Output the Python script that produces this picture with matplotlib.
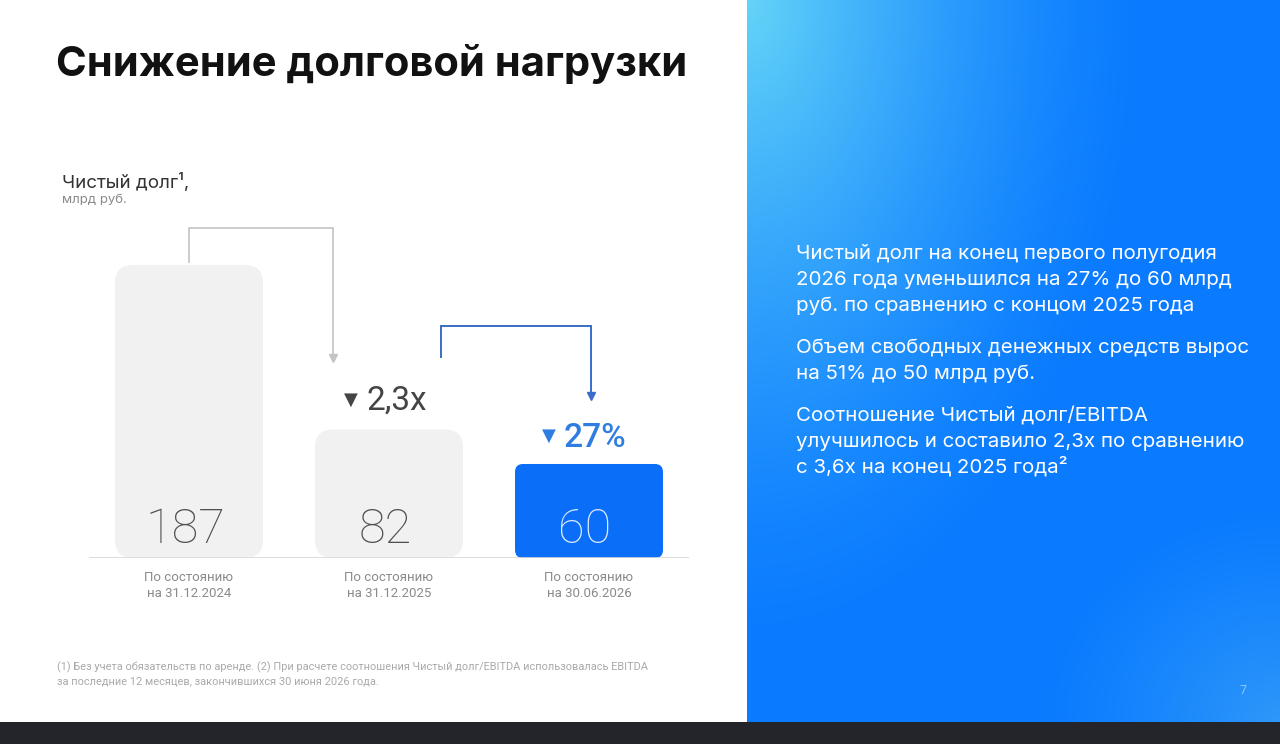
import numpy as np
import matplotlib
matplotlib.use('Agg')
import matplotlib.pyplot as plt
from matplotlib.patches import FancyBboxPatch

plt.rcParams['font.family'] = ['Roboto', 'DejaVu Sans']

# data
categories = ['По состоянию\nна 31.12.2024', 'По состоянию\nна 31.12.2025', 'По состоянию\nна 30.06.2026']
values = [187, 82, 60]
bar_colors = ['#f1f1f1', '#f1f1f1', '#0b6ef8']
label_colors = ['#505050', '#505050', '#dbeaff']
change_labels = ['2,3x', '27%']

title = 'Снижение долговой нагрузки'
paragraphs = [
    ['Чистый долг на конец первого полугодия',
     '2026 года уменьшился на 27% до 60 млрд',
     'руб. по сравнению с концом 2025 года'],
    ['Объем свободных денежных средств вырос',
     'на 51% до 50 млрд руб.'],
    ['Соотношение Чистый долг/EBITDA',
     'улучшилось и составило 2,3x по сравнению',
     'с 3,6x на конец 2025 года²'],
]
footnote = ['(1) Без учета обязательств по аренде. (2) При расчете соотношения Чистый долг/EBITDA использовалась EBITDA',
            'за последние 12 месяцев, закончившихся 30 июня 2026 года.']

W, H = 1280, 744
fig = plt.figure(figsize=(W / 100, H / 100), dpi=100, facecolor='white')


def pos(x, y):
    return x / W, 1 - y / H


# right gradient panel
gx0, gy1 = 747, 722
gh, gw = gy1, W - gx0
u = np.linspace(0, 1, gw)[None, :]
v = np.linspace(0, 1, gh)[:, None]
base = np.array([10, 123, 255]) / 255
cyan = np.array([100, 212, 248]) / 255
light = np.array([70, 170, 245]) / 255
m1 = np.clip(1 - np.sqrt((u / 0.75) ** 2 + (v / 0.9) ** 2), 0, 1) ** 1.4
m2 = 0.6 * np.clip(1 - np.sqrt(((1 - u) / 0.45) ** 2 + ((1 - v) / 0.3) ** 2), 0, 1) ** 1.2
img = base[None, None, :] * np.ones((gh, gw, 1))
img = img * (1 - m1[..., None]) + cyan * m1[..., None]
img = img * (1 - m2[..., None]) + light * m2[..., None]
axg = fig.add_axes([gx0 / W, (H - gy1) / H, gw / W, gh / H])
axg.imshow(img, aspect='auto', interpolation='bilinear')
axg.axis('off')

# dark strip at the bottom
axd = fig.add_axes([0, 0, 1, (H - gy1) / H])
axd.set_facecolor('#23252b')
axd.set_xticks([])
axd.set_yticks([])
for s in axd.spines.values():
    s.set_visible(False)

# chart axes
base_px = 558
px_y = 1.567
px_x = 200
ymax = 220
ax = fig.add_axes([89 / W, (H - base_px) / H, 600 / W, ymax * px_y / H])
ax.set_xlim(-0.5, 2.5)
ax.set_ylim(0, ymax)
ax.axis('off')

asp = (1 / px_y) / (1 / px_x)
bw = 0.74
for i, (val, c) in enumerate(zip(values, bar_colors)):
    r = 18 / px_x if i < 2 else 8 / px_x
    p = FancyBboxPatch((i - bw / 2, 0), bw, val,
                       boxstyle=f'round,pad=0,rounding_size={r}',
                       mutation_aspect=asp, fc=c, ec='none', zorder=2)
    ax.add_patch(p)
    ax.text(i - 0.02, 15 / px_y, str(val), ha='center', va='baseline',
            fontsize=35, fontweight='light', color=label_colors[i], zorder=3)
    l1, l2 = categories[i].split('\n')
    ax.text(i, -23 / px_y, l1, ha='center', va='baseline', fontsize=9.5,
            color='#8a8a8a', clip_on=False)
    ax.text(i, -39 / px_y, l2, ha='center', va='baseline', fontsize=9.5,
            color='#8a8a8a', clip_on=False)

ax.axhline(0, color='#d8d8d8', lw=1.2, zorder=3)

# connectors
gray = '#c4c4c4'
ax.plot([0, 0, 0.72, 0.72], [values[0] + 2, 210.6, 210.6, 129],
        color=gray, lw=1.2, clip_on=False, solid_joinstyle='miter')
ax.plot([0.72], [127.5], marker='v', ms=6, color=gray, clip_on=False)
blue_line = '#3a6ec8'
ax.plot([1.26, 1.26, 2.01, 2.01], [128.3, 148, 148, 105],
        color=blue_line, lw=1.4, clip_on=False, solid_joinstyle='miter')
ax.plot([2.01], [103.5], marker='v', ms=6, color=blue_line, clip_on=False)

# change labels
ax.text(0.81, 100.8, '▼', ha='center', va='center', fontsize=13,
        color='#444444', family='DejaVu Sans')
ax.text(0.885, 94.4, change_labels[0], ha='left', va='baseline', fontsize=24,
        color='#444444')
ax.text(1.80, 77.9, '▼', ha='center', va='center', fontsize=13,
        color='#2f7de1', family='DejaVu Sans')
ax.text(1.875, 70.8, change_labels[1], ha='left', va='baseline', fontsize=24,
        fontweight='medium', color='#2f7de1')

# texts
fig.text(*pos(56, 76), title, fontsize=30, fontweight='bold', color='#111111',
         va='baseline', ha='left', family=['Inter', 'DejaVu Sans'])
fig.text(*pos(62, 188), 'Чистый долг¹,', fontsize=13.5, color='#333333',
         va='baseline', ha='left', family=['Inter', 'DejaVu Sans'])
fig.text(*pos(62, 203), 'млрд руб.', fontsize=9.5, color='#8a8a8a',
         va='baseline', ha='left', family=['Inter', 'DejaVu Sans'])

y = 259
for para in paragraphs:
    for line in para:
        fig.text(*pos(796, y), line, fontsize=14.8, color='white',
                 va='baseline', ha='left', family=['Inter', 'DejaVu Sans'])
        y += 26
    y += 16

for k, line in enumerate(footnote):
    fig.text(*pos(57, 670 + 14 * k), line, fontsize=7.9, color='#aaaaaa',
             va='baseline', ha='left')

fig.text(*pos(1243, 694), '7', fontsize=9, color='#8cc8ff', va='baseline',
         ha='center')

fig.savefig('out.png', dpi=100, facecolor='white')
